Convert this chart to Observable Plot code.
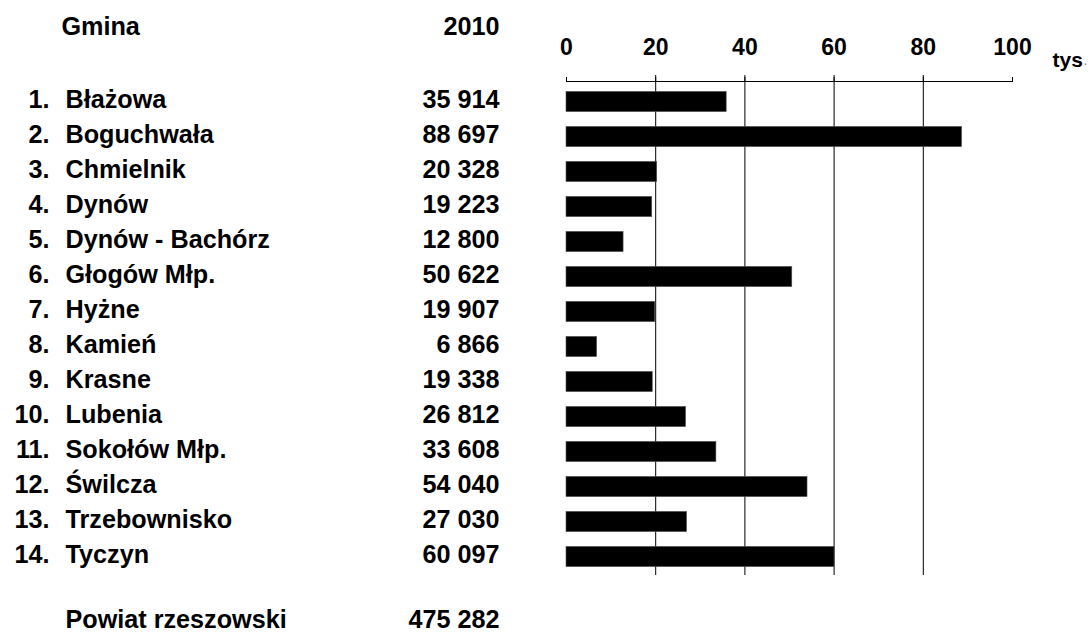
<!DOCTYPE html>
<html>
<head>
<meta charset="utf-8">
<script src="https://cdn.jsdelivr.net/npm/d3@7"></script>
<script src="https://cdn.jsdelivr.net/npm/@observablehq/plot@0.6"></script>
<style>
  html, body { margin: 0; padding: 0; background: #fff; overflow: hidden; }
  #chart svg { display: block; }
</style>
</head>
<body>
<div id="chart"></div>
<script>
const numery = ["1.", "2.", "3.", "4.", "5.", "6.", "7.", "8.", "9.", "10.", "11.", "12.", "13.", "14."];
const gminy = ["Błażowa", "Boguchwała", "Chmielnik", "Dynów", "Dynów - Bachórz", "Głogów Młp.", "Hyżne", "Kamień", "Krasne", "Lubenia", "Sokołów Młp.", "Świlcza", "Trzebownisko", "Tyczyn"];
const wartosci = [35914, 88697, 20328, 19223, 12800, 50622, 19907, 6866, 19338, 26812, 33608, 54040, 27030, 60097];
const sumaNazwa = "Powiat rzeszowski";
const sumaWartosc = 475282;
const naglowekGmina = "Gmina";
const naglowekRok = "2010";
const jednostka = "tys";
const kropka = ".";
const osTicks = [0, 20, 40, 60, 80, 100];
const siatka = [20, 40, 60, 80];

const loc = d3.formatLocale({decimal: ",", thousands: " ", grouping: [3], currency: ["", ""]});
const fmt = loc.format(",d");

const dane = gminy.map((g, i) => ({nr: numery[i], gmina: g, v: wartosci[i], tys: wartosci[i] / 1000, label: fmt(wartosci[i])}));

const W = 1091, H = 635;
const x0 = 566, x100 = 1012;
const yTop = 81, yBottom = 577;
const font = "Liberation Sans, Arial, sans-serif";
const bold = {fontSize: 25.2, fontWeight: "bold", fill: "black", lineAnchor: "middle"};

const chart = Plot.plot({
  width: W,
  height: H,
  marginLeft: x0,
  marginRight: W - x100,
  marginTop: yTop,
  marginBottom: H - yBottom,
  style: {fontFamily: font, color: "black", background: "white"},
  x: {domain: [0, 100], axis: null},
  y: {domain: gminy, padding: 0, axis: null},
  marks: [
    Plot.ruleX(siatka, {stroke: "black", strokeWidth: 1, insetTop: -6, insetBottom: 2}),
    Plot.frame({anchor: "top", stroke: "black", strokeWidth: 1}),
    Plot.axisX(osTicks, {anchor: "top", label: null, tickSize: 5, tickPadding: 22, fontSize: 23, fontWeight: "bold", stroke: "black", fill: "black"}),
    Plot.barX(dane, {x: "tys", y: "gmina", fill: "black", stroke: "#555", strokeWidth: 0.6, insetTop: 7.4, insetBottom: 7.4}),
    Plot.text(dane, {y: "gmina", text: "nr", frameAnchor: "left", dx: 49 - x0, dy: -2, textAnchor: "end", ...bold}),
    Plot.text(dane, {y: "gmina", text: "gmina", frameAnchor: "left", dx: 65 - x0, dy: -2, textAnchor: "start", ...bold}),
    Plot.text(dane, {y: "gmina", text: "label", frameAnchor: "left", dx: 499 - x0, dy: -2, textAnchor: "end", ...bold}),
    Plot.text([naglowekGmina], {frameAnchor: "top-left", dx: 61 - x0, dy: 26 - yTop, textAnchor: "start", ...bold}),
    Plot.text([naglowekRok], {frameAnchor: "top-left", dx: 499 - x0, dy: 26 - yTop, textAnchor: "end", ...bold}),
    Plot.text([sumaNazwa], {frameAnchor: "bottom-left", dx: 65 - x0, dy: 619 - yBottom, textAnchor: "start", ...bold}),
    Plot.text([fmt(sumaWartosc)], {frameAnchor: "bottom-left", dx: 499 - x0, dy: 619 - yBottom, textAnchor: "end", ...bold}),
    Plot.text([jednostka], {frameAnchor: "top-right", dx: 1052 - x100, dy: 60 - yTop, textAnchor: "start", lineAnchor: "middle", fontSize: 21, fontWeight: "bold", fill: "black"}),
    Plot.text([kropka], {frameAnchor: "top-right", dx: 1083 - x100, dy: 60 - yTop, textAnchor: "start", lineAnchor: "middle", fontSize: 14, fill: "#888"})
  ]
});
document.getElementById("chart").appendChild(chart);
</script>
</body>
</html>
